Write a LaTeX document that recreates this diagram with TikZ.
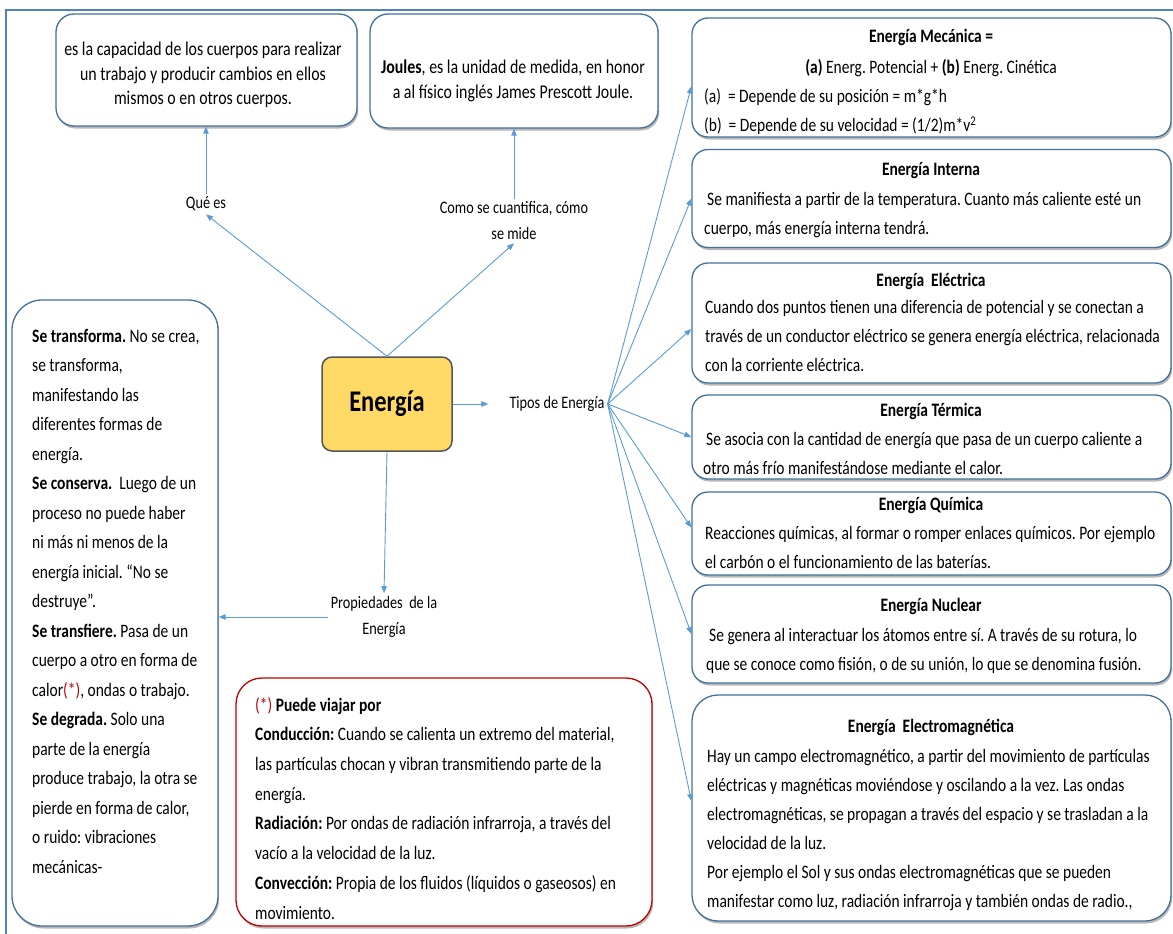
\documentclass[tikz,border=0pt]{standalone}
\usepackage{fontspec}
\setmainfont{Carlito}[FakeStretch=0.815]
\usetikzlibrary{arrows.meta,shadows}
\frenchspacing
\definecolor{bord}{RGB}{65,113,156}
\definecolor{arr}{RGB}{91,155,213}
\definecolor{gold}{RGB}{255,217,102}
\definecolor{redb}{RGB}{192,0,0}
\definecolor{framec}{RGB}{79,129,189}
\definecolor{edark}{RGB}{85,85,85}
\newcommand{\bodyf}{\fontsize{19}{29}\selectfont}
\newcommand{\leftf}{\fontsize{19}{29.5}\selectfont}
\newcommand{\redf}{\fontsize{19}{29.7}\selectfont}
\newcommand{\topf}{\fontsize{19.5}{24.5}\selectfont}
\newcommand{\lblf}{\fontsize{17.5}{26}\selectfont}
\newcommand{\bigf}{\fontsize{30}{34}\selectfont}
\tikzset{
  box/.style={draw=bord, line width=1.3pt, rounded corners=16pt, fill=white, inner sep=0pt,
    drop shadow={shadow xshift=1.2pt, shadow yshift=-2.5pt, fill=black, opacity=0.28}},
  redbox/.style={box, draw=redb, rounded corners=26pt},
  tx/.style={inner sep=0pt, anchor=north west, align=left, font=\bodyf},
  ttl/.style={inner sep=0pt, anchor=base, font=\bodyf\bfseries},
  sub/.style={inner sep=0pt, anchor=base, font=\bodyf},
  toptx/.style={inner sep=0pt, anchor=north, align=center, font=\topf},
  lbl/.style={inner sep=3pt, align=center, font=\lblf},
  arw/.style={draw=arr, line width=0.9pt, -{Triangle[length=7pt,width=5.5pt]}},
}
\begin{document}
\begin{tikzpicture}[x=1pt,y=-1pt]
\useasboundingbox (0,0) rectangle (1173,934);
\draw[framec, line width=1.6pt] (6,934) -- (6,10) -- (1173,10);

% top boxes
\node[box, rounded corners=18pt, minimum width=301pt, minimum height=112pt] (def) at (206.5,70) {};
\node[toptx] (deft) at (203,38.5) {\strut es la capacidad de los cuerpos para realizar\\un trabajo y producir cambios en ellos\\mismos o en otros cuerpos.};
\node[box, rounded corners=18pt, minimum width=288pt, minimum height=114pt] (joules) at (514,71) {};
\node[toptx] (joulest) at (513,56.5) {\strut\textbf{Joules}, es la unidad de medida, en honor\\a al físico inglés James Prescott Joule.};

% right boxes
\node[box, minimum width=479pt, minimum height=119pt] (mec) at (931.5,77.5) {};
\node[ttl] (mect) at (931,43) {Energía Mecánica =};
\node[sub] (mecs) at (931,74) {\textbf{(a)} Energ. Potencial + \textbf{(b)} Energ. Cinética};
\node[tx] (mecb) at (704,82) {\strut(a)~ = Depende de su posición = m*g*h\\(b)~ = Depende de su velocidad = (1/2)m*v\textsuperscript{2}};

\node[box, minimum width=479pt, minimum height=98pt] (int) at (931.5,198.5) {};
\node[ttl] (intt) at (931,175) {Energía Interna};
\node[tx] (intb) at (704,185) {\strut\hspace{3pt}Se manifiesta a partir de la temperatura. Cuanto más caliente esté un\\cuerpo, más energía interna tendrá.};

\node[box, minimum width=479pt, minimum height=120pt] (ele) at (931.5,323) {};
\node[ttl] (elet) at (931,286) {Energía~ Eléctrica};
\node[tx] (eleb) at (705,293) {\strut Cuando dos puntos tienen una diferencia de potencial y se conectan a\\través de un conductor eléctrico se genera energía eléctrica, relacionada\\con la corriente eléctrica.};

\node[box, minimum width=479pt, minimum height=84pt] (ter) at (931.5,437) {};
\node[ttl] (tert) at (931,416) {Energía Térmica};
\node[tx] (terb) at (703,424.5) {\strut\hspace{3pt}Se asocia con la cantidad de energía que pasa de un cuerpo caliente a\\otro más frío manifestándose mediante el calor.};

\node[box, minimum width=479pt, minimum height=83pt] (qui) at (931.5,533.5) {};
\node[ttl] (quit) at (931,510) {Energía Química};
\node[tx] (quib) at (705,518.5) {\strut Reacciones químicas, al formar o romper enlaces químicos. Por ejemplo\\el carbón o el funcionamiento de las baterías.};

\node[box, minimum width=479pt, minimum height=98pt] (nuc) at (931.5,634) {};
\node[ttl] (nuct) at (931,611) {Energía Nuclear};
\node[tx] (nucb) at (706,621) {\strut\hspace{3pt}Se genera al interactuar los átomos entre sí. A través de su rotura, lo\\que se conoce como fisión, o de su unión, lo que se denomina fusión.};

\node[box, rounded corners=26pt, minimum width=479pt, minimum height=226pt] (emg) at (931.5,808) {};
\node[ttl] (emgt) at (931,732) {Energía~ Electromagnética};
\node[tx] (emgb) at (707,742) {\strut Hay un campo electromagnético, a partir del movimiento de partículas\\eléctricas y magnéticas moviéndose y oscilando a la vez. Las ondas\\electromagnéticas, se propagan a través del espacio y se trasladan a la\\velocidad de la luz.\\Por ejemplo el Sol y sus ondas electromagnéticas que se pueden\\manifestar como luz, radiación infrarroja y también ondas de radio.,};

% left box
\node[box, rounded corners=30pt, minimum width=206pt, minimum height=626pt] (left) at (115,613) {};
\node[tx, font=\leftf] (leftb) at (32,321.4) {\strut\textbf{Se transforma.} No se crea,\\se transforma,\\manifestando las\\diferentes formas de\\energía.\\\textbf{Se conserva.}~ Luego de un\\proceso no puede haber\\ni más ni menos de la\\energía inicial. “No se\\destruye”.\\\textbf{Se transfiere.} Pasa de un\\cuerpo a otro en forma de\\calor{\color{redb}(*)}, ondas o trabajo.\\\textbf{Se degrada.} Solo una\\parte de la energía\\produce trabajo, la otra se\\pierde en forma de calor,\\o ruido: vibraciones\\mecánicas-};

% red box
\node[redbox, minimum width=416pt, minimum height=248pt] (red) at (444,802) {};
\node[tx, font=\redf] (redt) at (255,690.2) {\strut{\color{redb}(*)} \textbf{Puede viajar por}\\\textbf{Conducción:} Cuando se calienta un extremo del material,\\las partículas chocan y vibran transmitiendo parte de la\\energía.\\\textbf{Radiación:} Por ondas de radiación infrarroja, a través del\\vacío a la velocidad de la luz.\\\textbf{Convección:} Propia de los fluidos (líquidos o gaseosos) en\\movimiento.};

% centre
\node[draw=edark, line width=1.5pt, fill=gold, rounded corners=10pt, minimum width=130pt, minimum height=94pt, font=\bigf\bfseries] (energia) at (387,404) {Energía};
\node[lbl] (quees) at (206,204) {Qué es};
\node[lbl] (como) at (514,221) {Como se cuantifica, cómo\\se mide};
\node[lbl] (tipos) at (557,404) {Tipos de Energía};
\node[lbl] (prop) at (384,617) {Propiedades~ de la\\Energía};

% connectors
\draw[arw] (energia.north) -- (quees.south);
\draw[arw] (quees.north) -- (quees.north |- def.south);
\draw[arw] (energia.north) -- (como.south);
\draw[arw] (como.north) -- (como.north |- joules.south);
\draw[arw, shorten >=18pt] (energia.east) -- (tipos.west);
\draw[arw] (tipos.east) -- ([yshift=-9pt]mec.west);
\draw[arw] (tipos.east) -- (int.west);
\draw[arw] (tipos.east) -- ([yshift=-6pt]ele.west);
\draw[arw] (tipos.east) -- (ter.west);
\draw[arw] (tipos.east) -- ([yshift=6pt]qui.west);
\draw[arw] (tipos.east) -- (nuc.west);
\draw[arw] (tipos.east) -- ([yshift=7pt]emg.west);
\draw[arw] (energia.south) -- (prop.north);
\draw[arw] (prop.west) -- (prop.west -| left.east);
\end{tikzpicture}
\end{document}
